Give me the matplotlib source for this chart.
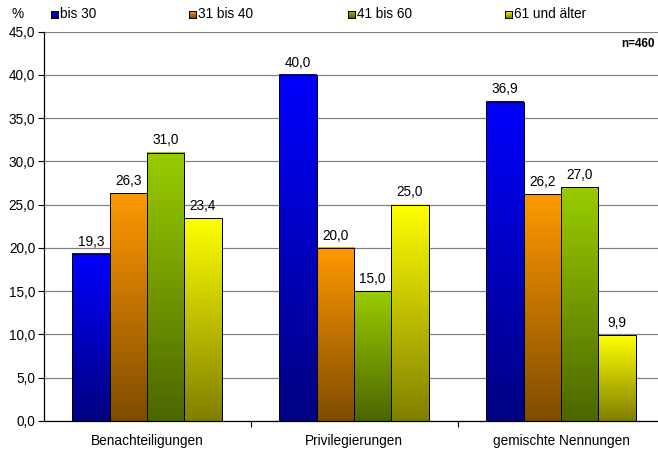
import matplotlib
matplotlib.use("Agg")
import matplotlib.pyplot as plt
import numpy as np
from matplotlib.colors import LinearSegmentedColormap
from matplotlib.ticker import FuncFormatter, FixedLocator

plt.rcParams['font.family'] = ['Liberation Sans', 'DejaVu Sans']

categories = ["Benachteiligungen", "Privilegierungen", "gemischte Nennungen"]
series_names = ["bis 30", "31 bis 40", "41 bis 60", "61 und älter"]
values_bis30 = [19.3, 40.0, 36.9]
values_31_40 = [26.3, 20.0, 26.2]
values_41_60 = [31.0, 15.0, 27.0]
values_61 = [23.4, 25.0, 9.9]
series_values = [values_bis30, values_31_40, values_41_60, values_61]
y_ticks = [0, 5, 10, 15, 20, 25, 30, 35, 40, 45]

# (bottom colour, top colour) for each series' vertical gradient
gradients = [
    ("#000080", "#0000ff"),
    ("#804c00", "#ff9900"),
    ("#4c6600", "#99cc00"),
    ("#808000", "#ffff00"),
]
cmaps = [LinearSegmentedColormap.from_list(f"g{i}", list(c)) for i, c in enumerate(gradients)]

W, H = 658, 449
FS = 9.8
fig = plt.figure(figsize=(W / 100, H / 100), dpi=100)
ax = fig.add_axes([43.5 / W, 28 / H, 621 / W, 389.5 / H])

x = np.arange(len(categories))
bw = 0.18
offsets = np.array([-1.5, -0.5, 0.5, 1.5]) * bw
grad = np.linspace(0, 1, 512).reshape(-1, 1)

fmt = lambda v: f"{v:.1f}".replace(".", ",")

for i, vals in enumerate(series_values):
    bars = ax.bar(x + offsets[i], vals, width=bw, facecolor="none",
                  edgecolor="black", linewidth=0.72, zorder=3)
    for b, v in zip(bars, vals):
        x0, w, h = b.get_x(), b.get_width(), b.get_height()
        ax.imshow(grad, cmap=cmaps[i], origin="lower", aspect="auto",
                  extent=[x0, x0 + w, 0, h], zorder=2, interpolation="nearest")
        ax.text(x0 + w / 2, h + 0.6, fmt(v), ha="center", va="bottom",
                fontsize=FS, color="black", zorder=4)

ax.set_xlim(-0.5, 2.5)
ax.set_ylim(0, 45)
ax.yaxis.set_major_locator(FixedLocator(y_ticks))
ax.yaxis.set_major_formatter(FuncFormatter(lambda v, p: fmt(v)))
ax.yaxis.grid(True, color="#808080", linewidth=0.9, zorder=0)
ax.set_axisbelow(True)

ax.set_xticks([0.5, 1.5])
ax.set_xticklabels([])
ax.set_xticks(x, minor=True)
ax.set_xticklabels(categories, minor=True, fontsize=FS)
ax.tick_params(axis="x", which="minor", length=0, pad=9)
ax.tick_params(axis="x", which="major", length=4, width=0.8, direction="out")
ax.tick_params(axis="y", length=4, width=0.8, direction="out", labelsize=FS, pad=2)

for s in ("top", "right"):
    ax.spines[s].set_visible(False)
for s in ("left", "bottom"):
    ax.spines[s].set_linewidth(0.9)
    ax.spines[s].set_zorder(5)

ax.text(611 / 621, 0.967, "n=460", transform=ax.transAxes, fontsize=8.5,
        fontweight="bold", ha="right", va="center")

# legend row across the top
fig.text(12 / W, 1 - 14 / H, "%", fontsize=FS, va="center", ha="left")
legend_x = [51, 189, 348, 505]
for i, (name, lx) in enumerate(zip(series_names, legend_x)):
    mk = fig.add_axes([lx / W, 1 - 18 / H, 7 / W, 7 / H])
    mk.imshow(grad, cmap=cmaps[i], origin="lower", aspect="auto",
              extent=[0, 1, 0, 1])
    mk.set_xticks([]); mk.set_yticks([])
    for sp in mk.spines.values():
        sp.set_linewidth(0.7)
    fig.text((lx + 9) / W, 1 - 14.5 / H, name, fontsize=FS, va="center", ha="left")

fig.savefig("out.png", dpi=100)
